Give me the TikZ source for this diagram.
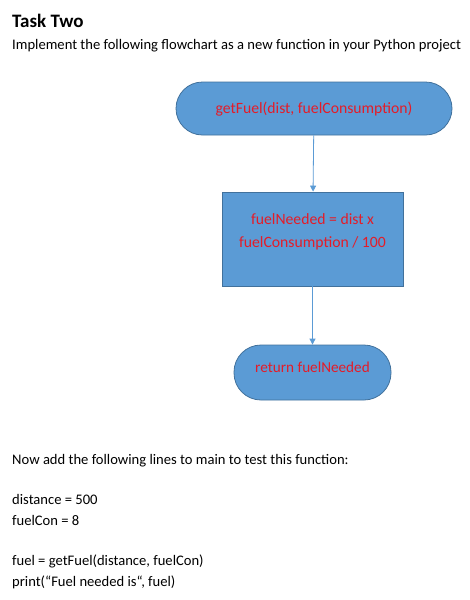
\documentclass[tikz,border=0pt]{standalone}
\usepackage{fontspec}
\setmainfont{Carlito}
\usetikzlibrary{arrows.meta}
\definecolor{boxfill}{RGB}{91,155,213}
\definecolor{boxline}{RGB}{65,113,156}
\definecolor{txtred}{RGB}{228,28,40}
\begin{document}
\begin{tikzpicture}[x=1pt,y=-1pt,
  term/.style={draw=boxline,fill=boxfill,line width=0.8pt,rounded corners=#1,inner sep=0pt,text=txtred,font=\fontsize{15.7}{18}\selectfont},
  proc/.style={draw=boxline,fill=boxfill,line width=0.8pt,inner sep=0pt,text=txtred,font=\fontsize{15.7}{23}\selectfont},
  flow/.style={draw=boxfill,line width=0.8pt,-{Triangle[length=6pt,width=6pt]}},
  body/.style={anchor=base west,inner sep=0pt,font=\fontsize{14.6}{17}\selectfont}]
\useasboundingbox[fill=white] (0,0) rectangle (469,600);
\node[body,font=\bfseries\fontsize{19}{22}\selectfont] (title) at (12,27) {Task Two};
\node[body] (sub) at (12,49) {Implement the following flowchart as a new function in your Python project};
\node[term=26.5pt,minimum width=276pt,minimum height=53pt] (start) at (314,108.5) {\raisebox{-4.5pt}[0pt][0pt]{getFuel(dist, fuelConsumption)}};
\node[proc,minimum width=181pt,minimum height=94pt] (calc) at (312.5,239) {\raisebox{15pt}[0pt][0pt]{\parbox[t]{170pt}{\centering fuelNeeded = dist x\\fuelConsumption / 100}}};
\node[term=27pt,minimum width=157pt,minimum height=55pt,font=\fontsize{15.2}{18}\selectfont] (ret) at (312.5,372.5) {\raisebox{0pt}[0pt][0pt]{return fuelNeeded}};
\draw[flow] (start) -- (calc);
\draw[flow] (calc) -- (ret);
\node[body] (l1) at (12,464) {Now add the following lines to main to test this function:};
\node[body] (l2) at (12,504) {distance = 500};
\node[body] (l3) at (12,525) {fuelCon = 8};
\node[body] (l4) at (12,565) {fuel = getFuel(distance, fuelCon)};
\node[body] (l5) at (12,586) {print(“Fuel needed is“, fuel)};
\end{tikzpicture}
\end{document}
